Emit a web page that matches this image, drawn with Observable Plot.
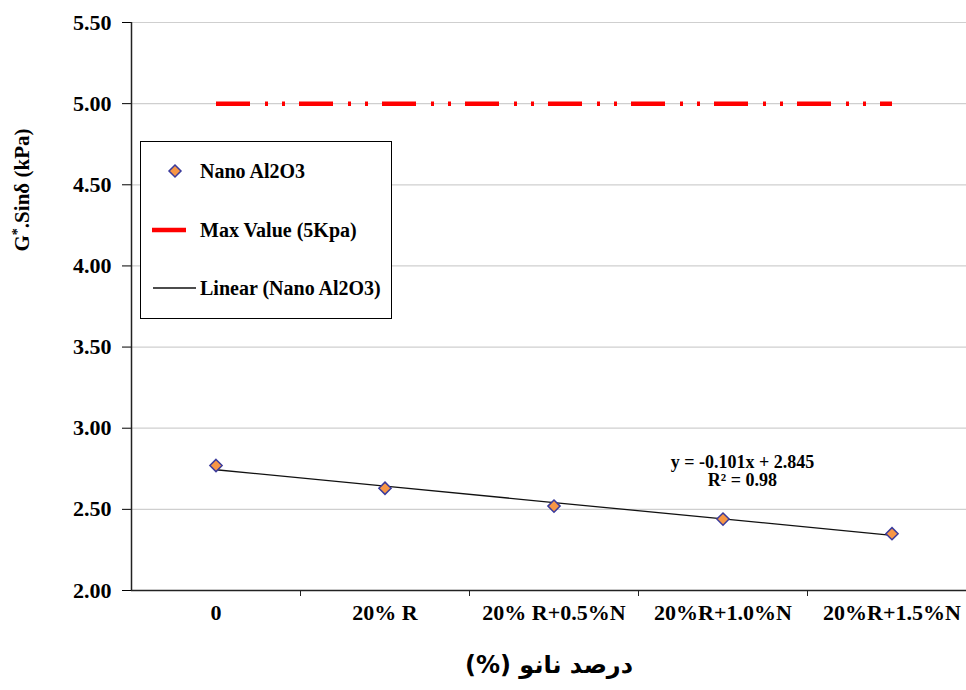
<!DOCTYPE html>
<html>
<head>
<meta charset="utf-8">
<script src="https://cdn.jsdelivr.net/npm/d3@7"></script>
<script src="https://cdn.jsdelivr.net/npm/@observablehq/plot@0.6"></script>
<style>
  body { margin: 0; background: white; }
  #wrap { position: relative; width: 966px; height: 690px; overflow: hidden; }
  #legend { position: absolute; left: 140px; top: 141px; width: 250px; height: 176px;
            border: 1px solid #000; background: #fff; font-family: "Liberation Serif", "DejaVu Serif", serif;
            font-weight: bold; font-size: 20px; }
  .li { position: absolute; left: 0; height: 24px; }
  .li svg { position: absolute; left: 0; top: 0; }
  .li span { position: absolute; left: 59px; top: 0; line-height: 24px; white-space: nowrap; }
</style>
</head>
<body>
<div id="wrap"></div>
<script>
const categories = ["0", "20% R", "20% R+0.5%N", "20%R+1.0%N", "20%R+1.5%N"];
const nanoValues = [2.77, 2.63, 2.52, 2.44, 2.35];
const maxValues = [5.0, 5.0, 5.0, 5.0, 5.0];
const trendValues = [2.744, 2.643, 2.542, 2.441, 2.340];
const yTicks = [2.0, 2.5, 3.0, 3.5, 4.0, 4.5, 5.0, 5.5];
const legendLabels = ["Nano Al2O3", "Max Value (5Kpa)", "Linear (Nano Al2O3)"];
const equationText = "y = -0.101x + 2.845\nR² = 0.98";
const xLabel = "درصد نانو (%)";

const idx = categories.map((c, i) => i + 1);
const bounds = [1.5, 2.5, 3.5, 4.5, 5.5];
const font = "Liberation Serif, DejaVu Serif, serif";

const chart = Plot.plot({
  width: 966,
  height: 690,
  marginLeft: 131,
  marginRight: 0,
  marginTop: 22,
  marginBottom: 100,
  style: { fontFamily: font, fontWeight: "bold", background: "white", color: "black", overflow: "visible" },
  x: { domain: [0.5, 5.5], range: [131, 976] },
  y: { domain: [2, 5.5] },
  marks: [
    Plot.ruleY(yTicks.filter(d => d > 2), { stroke: "#cfcfcf", strokeWidth: 1.2 }),
    Plot.axisY({ ticks: yTicks, tickFormat: d => d.toFixed(2), tickSize: 9, tickPadding: 11, fontSize: 22, label: null, stroke: "black" }),
    Plot.axisX({ ticks: idx, tickFormat: i => categories[i - 1], tickSize: 0, tickPadding: 14, fontSize: 22, label: null }),
    Plot.axisX({ ticks: bounds, tickFormat: () => "", tickSize: 6, label: null, stroke: "#222" }),
    Plot.ruleY([2], { stroke: "#222", strokeWidth: 1.5 }),
    Plot.ruleX([0.5], { y1: 2, y2: 5.5, stroke: "#222", strokeWidth: 1.5 }),
    Plot.lineY(maxValues, { x: (d, i) => idx[i], y: d => d, stroke: "#ff0000", strokeWidth: 4.5, strokeLinecap: "butt",
      strokeDasharray: "34,15,3,14,3,14" }),
    Plot.lineY(trendValues, { x: (d, i) => idx[i], y: d => d, stroke: "#111", strokeWidth: 1.3 }),
    Plot.dot(nanoValues, { x: (d, i) => idx[i], y: d => d, symbol: "diamond2", r: 5.5, fill: "#f79646", stroke: "#3b3b9c", strokeWidth: 1.5 }),
    Plot.text([equationText], { x: 4.115, y: 2.737, text: d => d, fontSize: 18, fontWeight: "bold", lineHeight: 1.05, fill: "black" }),
    Plot.text([xLabel + "\u200F"], { frameAnchor: "bottom", dy: 82, text: d => d, fontSize: 24, fontWeight: "bold",
      fontFamily: "DejaVu Sans, sans-serif", fill: "black" })
  ]
});

// y label
const svg = d3.select(chart);
const t = svg.append("text")
  .attr("transform", "translate(29,190) rotate(-90)")
  .attr("text-anchor", "middle")
  .attr("font-family", font)
  .attr("font-weight", "bold")
  .attr("font-size", 21)
  .attr("fill", "black");
t.append("tspan").text("G");
t.append("tspan").attr("font-size", 14).attr("dy", -7).text("*");
t.append("tspan").attr("dy", 7).text(".Sinδ (kPa)");

const wrap = document.getElementById("wrap");
wrap.appendChild(chart);

// legend
const legend = document.createElement("div");
legend.id = "legend";
const items = [
  { top: 17, sw: '<svg width="60" height="24"><path d="M34,6 L40,12 L34,18 L28,12 Z" fill="#f79646" stroke="#3b3b9c" stroke-width="1.5"/></svg>' },
  { top: 76, sw: '<svg width="60" height="24"><line x1="11" x2="45" y1="12" y2="12" stroke="#ff0000" stroke-width="4.5"/></svg>' },
  { top: 134, sw: '<svg width="60" height="24"><line x1="12" x2="55" y1="12" y2="12" stroke="#111" stroke-width="1.3"/></svg>' }
];
items.forEach((it, i) => {
  const d = document.createElement("div");
  d.className = "li";
  d.style.top = it.top + "px";
  d.style.width = "248px";
  d.innerHTML = it.sw + "<span>" + legendLabels[i] + "</span>";
  legend.appendChild(d);
});
wrap.appendChild(legend);
</script>
</body>
</html>
